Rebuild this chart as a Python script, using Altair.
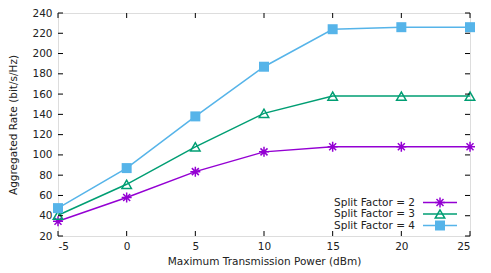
import altair as alt
import pandas as pd

power = [-5, 0, 5, 10, 15, 20, 25]
sf2 = [34.5, 58, 83.5, 103, 108, 108, 108]
sf3 = [40.5, 71, 108, 141, 158, 158, 158]
sf4 = [47.5, 87, 138, 187, 224, 226, 226]
series = ["Split Factor = 2", "Split Factor = 3", "Split Factor = 4"]
colors = ["#9400D3", "#009E73", "#56B4E9"]
y_ticks = list(range(20, 241, 20))
x_ticks = list(range(-5, 26, 5))

rows = []
for name, vals in zip(series, [sf2, sf3, sf4]):
    for p, v in zip(power, vals):
        rows.append({"power": p, "rate": v, "series": name})
df = pd.DataFrame(rows)

W, H = 412, 223
FONT = "DejaVu Sans"
FS = 10.5
ASTERISK = "M-1,0L1,0M0,-1L0,1M-0.7,-0.7L0.7,0.7M-0.7,0.7L0.7,-0.7"

xs = alt.Scale(domain=[-5, 25], nice=False, zero=False)
ys = alt.Scale(domain=[20, 240], nice=False, zero=False)
cs = alt.Scale(domain=series, range=colors)

x_axis = alt.Axis(
    values=x_ticks, title="Maximum Transmission Power (dBm)", ticks=False, domain=False,
    grid=False, labelPadding=5, titlePadding=5, labelFontSize=FS, titleFontSize=FS,
    labelFont=FONT, titleFont=FONT, labelColor="#222", titleColor="#222",
    titleFontWeight="normal", labelOverlap=False, labelExpr="'' + datum.value")
y_axis = alt.Axis(
    values=y_ticks, title="Aggregated Rate (bit/s/Hz)", ticks=False, domain=False,
    grid=False, labelPadding=6, titlePadding=13, labelFontSize=FS, titleFontSize=FS,
    labelFont=FONT, titleFont=FONT, labelColor="#222", titleColor="#222",
    titleFontWeight="normal", labelOverlap=False, labelExpr="'' + datum.value")

px = alt.X("power:Q", scale=xs, axis=x_axis, title="Maximum Transmission Power (dBm)")
py = alt.Y("rate:Q", scale=ys, axis=y_axis, title="Aggregated Rate (bit/s/Hz)")
col = alt.Color("series:N", scale=cs, legend=None)

base = alt.Chart(df)
lines = base.mark_line(strokeWidth=1.5).encode(x=px, y=py, color=col)
p2 = base.transform_filter(alt.datum.series == series[0]).mark_point(
    shape=ASTERISK, filled=False, size=100, strokeWidth=1.5, opacity=1).encode(
    x=px, y=py, color=col)
p3 = base.transform_filter(alt.datum.series == series[1]).mark_point(
    shape="triangle-up", filled=False, size=90, strokeWidth=1.5, opacity=1).encode(
    x=px, y=py, color=col)
p4 = base.transform_filter(alt.datum.series == series[2]).mark_point(
    shape="square", filled=True, size=100, opacity=1).encode(
    x=px, y=py, color=col)

ydf = pd.DataFrame({"rate": y_ticks})
xdf = pd.DataFrame({"power": x_ticks})
tl = alt.Chart(ydf).mark_rule(color="black", strokeWidth=1).encode(
    y=py, x=alt.value(0), x2=alt.value(5))
tr = alt.Chart(ydf).mark_rule(color="black", strokeWidth=1).encode(
    y=py, x=alt.value(W - 5), x2=alt.value(W))
tb = alt.Chart(xdf).mark_rule(color="black", strokeWidth=1).encode(
    x=px, y=alt.value(H), y2=alt.value(H - 5))
tt = alt.Chart(xdf).mark_rule(color="black", strokeWidth=1).encode(
    x=px, y=alt.value(0), y2=alt.value(5))

legend_layers = []
leg_y = [189.5, 201, 212.5]
shapes = [ASTERISK, "triangle-up", "square"]
filled = [False, False, True]
sizes = [100, 90, 100]
for i, name in enumerate(series):
    ldf = pd.DataFrame({"label": [name]})
    lc = alt.Chart(ldf)
    legend_layers.append(lc.mark_text(align="right", baseline="middle", font=FONT,
                                      fontSize=FS, color="#222").encode(
        text="label:N", x=alt.value(357), y=alt.value(leg_y[i])))
    legend_layers.append(lc.mark_rule(color=colors[i], strokeWidth=1.5).encode(
        x=alt.value(365), x2=alt.value(399), y=alt.value(leg_y[i])))
    legend_layers.append(lc.mark_point(shape=shapes[i], filled=filled[i], size=sizes[i],
                                       strokeWidth=1.5, opacity=1, color=colors[i]).encode(
        x=alt.value(382), y=alt.value(leg_y[i])))

chart = alt.layer(lines, p2, p3, p4, tl, tr, tb, tt, *legend_layers).properties(
    width=W, height=H,
    autosize=alt.AutoSizeParams(type="none"),
    padding={"left": 50, "top": 5, "right": 10, "bottom": 36},
).configure_view(stroke="black", strokeWidth=1).configure_axis(
    labelOverlap=False).configure(background="white")

chart.save("out.html", embed_options={"renderer": "svg", "actions": False})
